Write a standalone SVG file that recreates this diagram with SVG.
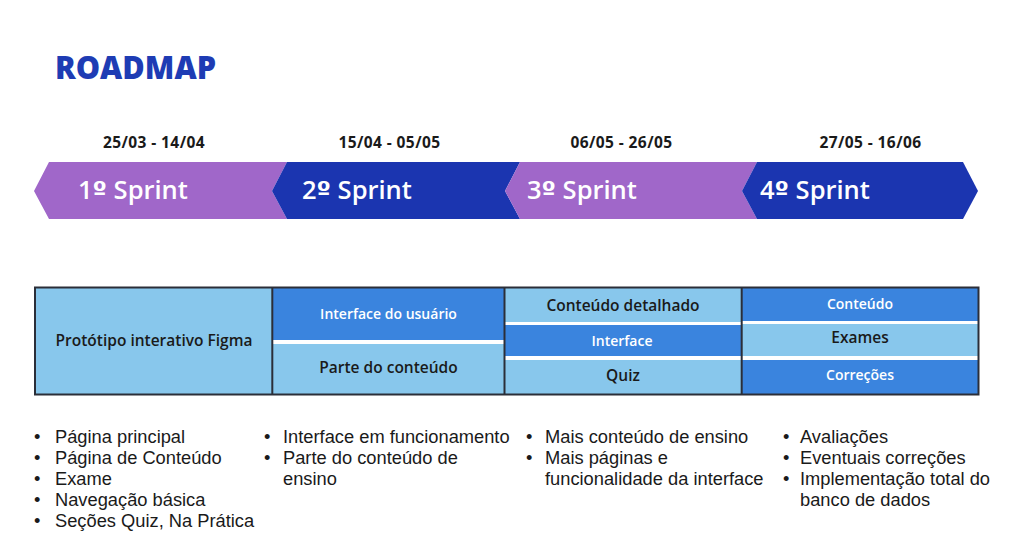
<svg xmlns="http://www.w3.org/2000/svg" width="1027" height="551" viewBox="0 0 1027 551">
<style>
.title{font-family:"Open Sans","Noto Sans",sans-serif;font-weight:800;font-size:31px;fill:#1E3CB4}
.date{font-family:"Open Sans","Noto Sans",sans-serif;font-weight:700;font-size:15.5px;letter-spacing:0.4px;fill:#1a1a1a;text-anchor:middle}
.sprint{font-family:"Open Sans","Noto Sans",sans-serif;font-weight:600;font-size:25.5px;fill:#ffffff}
.ord{font-family:"DejaVu Sans",sans-serif;font-weight:700}
.purple{fill:#A067C9}
.navy{fill:#1B35B0}
.light{fill:#88C7EC}
.mid{fill:#3A84DE}
.sep{fill:#ffffff}
.tdark{font-family:"Open Sans","Noto Sans",sans-serif;font-weight:600;font-size:15.5px;fill:#1a1a1a;text-anchor:middle}
.twhite{font-family:"Open Sans","Noto Sans",sans-serif;font-weight:600;font-size:14px;fill:#ffffff;text-anchor:middle}
.grid{fill:none;stroke:#2B2E38;stroke-width:2}
.list{font-family:"Liberation Sans",Arial,sans-serif;font-size:18.3px;fill:#1a1a1a}
</style>

<g id="title">
<text class="title" x="55" y="79" textLength="161" lengthAdjust="spacingAndGlyphs">ROADMAP</text>
</g>

<g id="sprint1">
<text class="date" x="154" y="148">25/03 - 14/04</text>
<polygon class="purple" points="34,191 49,162 287,162 272,191 287,219 49,219"/>
<text class="sprint" x="78" y="199">1<tspan class="ord">º</tspan> Sprint</text>
</g>
<g id="sprint2">
<text class="date" x="389.5" y="148">15/04 - 05/05</text>
<polygon class="navy" points="272,191 287,162 520,162 505,191 520,219 287,219"/>
<text class="sprint" x="302" y="199">2<tspan class="ord">º</tspan> Sprint</text>
</g>
<g id="sprint3">
<text class="date" x="621.5" y="148">06/05 - 26/05</text>
<polygon class="purple" points="505,191 520,162 757,162 742,191 757,219 520,219"/>
<text class="sprint" x="527" y="199">3<tspan class="ord">º</tspan> Sprint</text>
</g>
<g id="sprint4">
<text class="date" x="870.5" y="148">27/05 - 16/06</text>
<polygon class="navy" points="742,191 757,162 963,162 978,191 963,219 757,219"/>
<text class="sprint" x="760" y="199">4<tspan class="ord">º</tspan> Sprint</text>
</g>

<g id="table">
<g id="col1">
<rect class="light" x="35" y="287" width="237" height="107"/>
<text class="tdark" x="154" y="346">Protótipo interativo Figma</text>
</g>
<g id="col2">
<rect class="mid" x="272" y="287" width="233" height="53"/>
<rect class="sep" x="274" y="340" width="229" height="4"/>
<rect class="light" x="272" y="344" width="233" height="50"/>
<text class="twhite" x="388.5" y="319">Interface do usuário</text>
<text class="tdark" x="388.5" y="373">Parte do conteúdo</text>
</g>
<g id="col3">
<rect class="light" x="505" y="287" width="237" height="35"/>
<rect class="sep" x="507" y="322" width="233" height="3"/>
<rect class="mid" x="505" y="325" width="237" height="31"/>
<rect class="sep" x="507" y="356" width="233" height="4"/>
<rect class="light" x="505" y="360" width="237" height="34"/>
<text class="tdark" x="623" y="310.5">Conteúdo detalhado</text>
<text class="twhite" x="622" y="345.5">Interface</text>
<text class="tdark" x="623" y="381">Quiz</text>
</g>
<g id="col4">
<rect class="mid" x="742" y="287" width="236" height="34"/>
<rect class="sep" x="744" y="321" width="232" height="3"/>
<rect class="light" x="742" y="324" width="236" height="32"/>
<rect class="sep" x="744" y="356" width="232" height="4"/>
<rect class="mid" x="742" y="360" width="236" height="34"/>
<text class="twhite" x="860" y="309">Conteúdo</text>
<text class="tdark" x="860" y="343">Exames</text>
<text class="twhite" x="860" y="380">Correções</text>
</g>
<g id="grid">
<rect class="grid" x="35" y="287.5" width="943.5" height="107"/>
<line class="grid" x1="272.3" y1="287" x2="272.3" y2="395"/>
<line class="grid" x1="504.5" y1="287" x2="504.5" y2="395"/>
<line class="grid" x1="741.7" y1="287" x2="741.7" y2="395"/>
</g>
</g>

<g id="list1" class="list">
<text x="34" y="443">•</text><text x="55" y="443">Página principal</text>
<text x="34" y="464">•</text><text x="55" y="464">Página de Conteúdo</text>
<text x="34" y="485">•</text><text x="55" y="485">Exame</text>
<text x="34" y="506">•</text><text x="55" y="506">Navegação básica</text>
<text x="34" y="527">•</text><text x="55" y="527">Seções Quiz, Na Prática</text>
</g>
<g id="list2" class="list">
<text x="264" y="443">•</text><text x="283" y="443">Interface em funcionamento</text>
<text x="264" y="464">•</text><text x="283" y="464">Parte do conteúdo de</text>
<text x="283" y="485">ensino</text>
</g>
<g id="list3" class="list">
<text x="526" y="443">•</text><text x="545" y="443">Mais conteúdo de ensino</text>
<text x="526" y="464">•</text><text x="545" y="464">Mais páginas e</text>
<text x="545" y="485">funcionalidade da interface</text>
</g>
<g id="list4" class="list">
<text x="783" y="443">•</text><text x="800" y="443">Avaliações</text>
<text x="783" y="464">•</text><text x="800" y="464">Eventuais correções</text>
<text x="783" y="485">•</text><text x="800" y="485">Implementação total do</text>
<text x="800" y="506">banco de dados</text>
</g>
</svg>
